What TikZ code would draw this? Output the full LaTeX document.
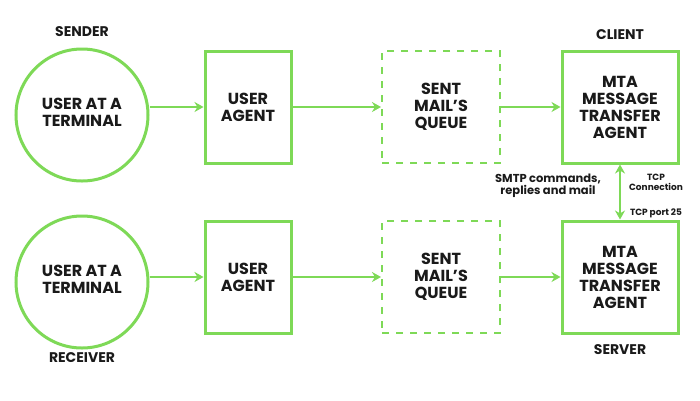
\documentclass[tikz,border=0pt]{standalone}
\usepackage{fontspec}
\setmainfont{Poppins}
\usetikzlibrary{arrows.meta}
\definecolor{gr}{HTML}{7ED957}
\definecolor{tx}{HTML}{1A1A1A}
\newcommand{\circtext}[1]{\raisebox{7pt}{\begin{tabular}{@{}c@{}}#1\end{tabular}}}
\begin{document}
\begin{tikzpicture}[x=1pt,y=-1pt,
  box/.style={draw=gr,line width=3pt,minimum width=86pt,minimum height=112pt,align=center,font=\fontsize{16}{17}\bfseries,text=tx,inner sep=0},
  dbox/.style={box,dash pattern=on 7pt off 7pt,line width=2pt,minimum width=118pt},
  circ/.style={draw=gr,line width=3pt,circle,minimum size=132pt,font=\fontsize{16}{17}\bfseries,text=tx,inner sep=0},
  lab/.style={font=\fontsize{14}{15}\bfseries,text=tx},
  arr/.style={draw=gr,line width=2.5pt,-{Stealth[length=9pt,width=10pt]}},
  small/.style={font=\fontsize{9}{10}\bfseries,text=tx,align=center}]
\useasboundingbox[fill=white] (0,0) rectangle (700,400);
\node[circ] (c1) at (82,115) {\circtext{USER AT A\\TERMINAL}};
\node[box] (u1) at (248,107) {USER\\AGENT};
\node[dbox] (q1) at (441,107) {SENT\\MAIL'S\\QUEUE};
\node[box,minimum width=116pt] (m1) at (620,107) {MTA\\MESSAGE\\TRANSFER\\AGENT};
\node[circ] (c2) at (82,282) {\circtext{USER AT A\\TERMINAL}};
\node[box] (u2) at (248,277) {USER\\AGENT};
\node[dbox] (q2) at (441,277) {SENT\\MAIL'S\\QUEUE};
\node[box,minimum width=116pt] (m2) at (620,277) {MTA\\MESSAGE\\TRANSFER\\AGENT};
\node[lab] (s) at (82,32) {SENDER};
\node[lab] (cl) at (620,35) {CLIENT};
\node[lab] (r) at (82,358) {RECEIVER};
\node[lab] (sv) at (620,350) {SERVER};
\draw[arr] (c1.east |- 0,107) -- (u1);
\draw[arr] (u1) -- (q1);
\draw[arr] (q1) -- (m1);
\draw[arr] (c2.east |- 0,277) -- (u2);
\draw[arr] (u2) -- (q2);
\draw[arr] (q2) -- (m2);
\draw[arr,{Stealth[length=9pt,width=10pt]}-{Stealth[length=9pt,width=10pt]}] (m1) -- (m2);
\node[font=\fontsize{11.5}{12}\bfseries,text=tx,align=center] (smtp) at (548,186) {SMTP commands,\\replies and mail};
\node[small] (tcp) at (656,182) {TCP\\Connection};
\node[small] (port) at (656,213) {TCP port 25};
\end{tikzpicture}
\end{document}
